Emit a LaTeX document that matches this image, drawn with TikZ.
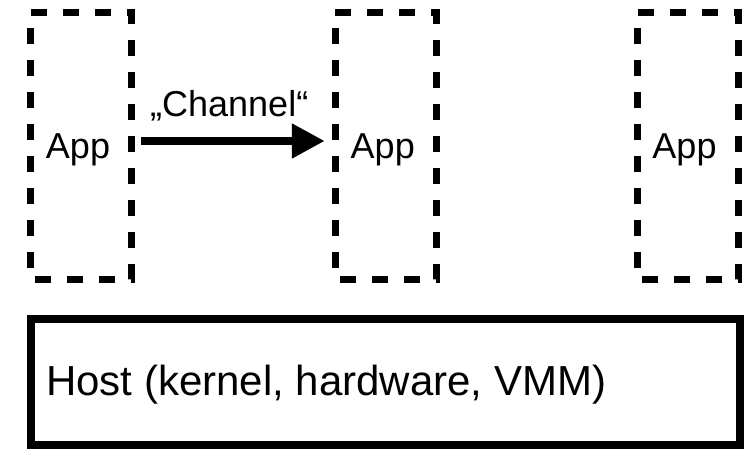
\documentclass[tikz,border=0pt]{standalone}
\usepackage{fontspec}
\setmainfont{Liberation Sans}
\usetikzlibrary{arrows.meta}
\begin{document}
\begin{tikzpicture}[x=1pt,y=-1pt,
  appbox/.style={minimum width=101pt,minimum height=266.5pt,inner sep=0pt,outer sep=0pt},
  dashframe/.style={line width=7pt,dash pattern=on 16pt off 16pt},
  applabel/.style={font=\fontsize{36}{43}\selectfont,anchor=base,inner sep=0pt},
  chanlabel/.style={font=\fontsize{36}{43}\selectfont,anchor=base west,inner sep=0pt},
  hostbox/.style={draw,line width=8pt,minimum width=709pt,minimum height=126pt,inner sep=0pt,outer sep=0pt},
  hostlabel/.style={font=\fontsize{42}{50}\selectfont,anchor=base west,inner sep=0pt},
  flow/.style={line width=8pt,-{Triangle[length=33pt,width=33pt]}}]
\useasboundingbox (0,0) rectangle (752,449);

% three application frames
\node[appbox] (box1) at (81,146.25) {};
\node[appbox] (box2) at (385.75,146.25) {};
\node[appbox] (box3) at (688.25,146.25) {};
\foreach \b in {box1,box2,box3}
  \draw[dashframe] (\b.north west) -- (\b.north east) -- (\b.south east) -- (\b.south west) -- cycle;

\node[applabel] (app1) at (78,159) {App};
\node[applabel] (app2) at (382.75,159) {App};
\node[applabel] (app3) at (684.5,159) {App};

% communication channel between the first two apps
\draw[flow] ([shift={(9.5,-5.25)}]box1.east) -- ([shift={(-10.5,-5.25)}]box2.west);
\node[chanlabel] (chan) at (150,117) {„Channel“};

% host layer
\node[hostbox] (host) at (385.5,382) {};
\node[hostlabel] (hosttext) at (46,395) {Host (kernel, hardware, VMM)};
\end{tikzpicture}
\end{document}
